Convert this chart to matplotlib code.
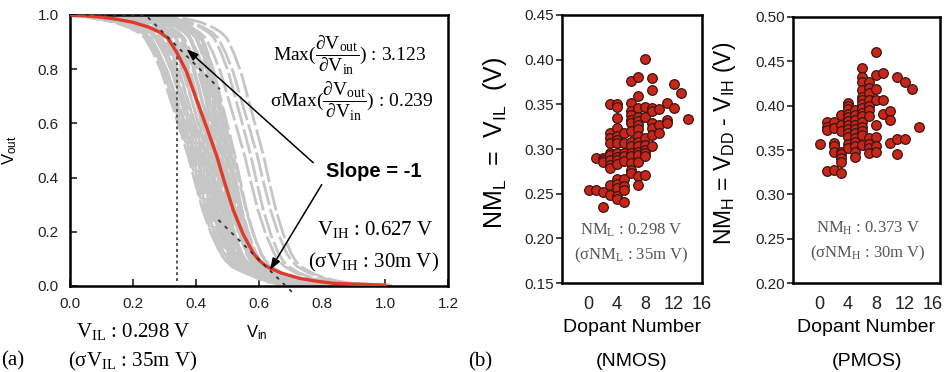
import numpy as np
import matplotlib.pyplot as plt

plt.rcParams['font.family'] = 'Liberation Sans'
plt.rcParams['mathtext.default'] = 'regular'

# (a) mean voltage transfer curve
vin = [0.0, 0.05, 0.1, 0.15, 0.2, 0.25, 0.286, 0.31, 0.339, 0.37, 0.413, 0.44,
       0.466, 0.49, 0.518, 0.55, 0.582, 0.6, 0.624, 0.67, 0.73, 0.78, 0.836, 0.9, 1.0]
vout = [1.0, 0.997, 0.992, 0.984, 0.973, 0.955, 0.936, 0.915, 0.862, 0.79, 0.652, 0.565,
        0.479, 0.385, 0.281, 0.19, 0.121, 0.095, 0.072, 0.048, 0.028, 0.018, 0.01, 0.007, 0.003]

# spread of the individual samples: shift along Vin and steepness vs. the mean curve
gray_shift = [-0.09, -0.085, -0.08, -0.075, -0.07, -0.065, -0.06, -0.055, -0.05, -0.045,
              -0.04, -0.035, -0.03, -0.025, -0.02, -0.015, -0.01, -0.005, 0.0, 0.005,
              0.01, 0.015, 0.02, 0.025, 0.03, 0.035, 0.04, 0.045, 0.05, 0.055,
              0.06, 0.0, 0.02, 0.04, 0.09, 0.11, 0.13, 0.15]
gray_scale = [0.88, 0.85, 0.9, 0.85, 0.9, 0.95, 0.85, 0.9, 0.85, 0.9,
              0.8, 0.9, 0.75, 0.85, 0.7, 0.8, 0.75, 0.65, 0.7, 0.8,
              0.6, 0.75, 0.65, 0.7, 0.6, 0.75, 0.65, 0.7, 0.6, 0.75,
              0.7, 0.5, 0.45, 0.55, 0.8, 0.75, 0.8, 0.75]

tan_top_x = [0.05, 0.24, 0.476]
tan_top_y = [1.0, 1.0, 0.726]
tan_bot_x = [0.471, 0.714]
tan_bot_y = [0.244, -0.033]

# (b) noise margins vs dopant number
nmos_n = [0, 1, 2, 2, 1, 2, 2, 2,
          3, 3, 3, 3, 3, 3, 3, 3, 3, 3, 3,
          4, 4, 4, 4, 4, 4, 4, 4, 4, 4, 4, 4, 4, 4, 4, 4,
          5, 5, 5, 5, 5, 5, 5, 5, 5,
          6, 6, 6, 6, 6, 6, 6, 6, 6, 6, 6, 6, 6, 6,
          7, 7, 7, 7, 7, 7, 7, 7, 7, 7, 7, 7, 7, 7, 7,
          8, 8, 8, 8, 8, 8, 8, 8, 8,
          9, 9, 9, 9, 9, 9, 9, 9,
          10, 10, 10, 11, 11, 11, 12, 12, 13, 14]
nmos_nm = [0.254, 0.254, 0.252, 0.235, 0.29, 0.29, 0.288, 0.286,
           0.35, 0.318, 0.312, 0.307, 0.296, 0.293, 0.288, 0.282, 0.279, 0.26, 0.249,
           0.35, 0.347, 0.335, 0.323, 0.315, 0.31, 0.307, 0.296, 0.291, 0.288, 0.283,
           0.266, 0.261, 0.256, 0.247, 0.244,
           0.318, 0.307, 0.296, 0.292, 0.287, 0.266, 0.259, 0.254, 0.241,
           0.376, 0.351, 0.342, 0.338, 0.333, 0.329, 0.32, 0.308, 0.303, 0.296,
           0.292, 0.284, 0.277, 0.273,
           0.381, 0.359, 0.346, 0.336, 0.331, 0.327, 0.322, 0.315, 0.308, 0.303,
           0.297, 0.293, 0.286, 0.27, 0.26,
           0.401, 0.347, 0.336, 0.312, 0.305, 0.299, 0.295, 0.292, 0.271,
           0.38, 0.366, 0.346, 0.342, 0.329, 0.323, 0.316, 0.303,
           0.345, 0.327, 0.318, 0.351, 0.333, 0.329, 0.373, 0.346, 0.363, 0.334]

pmos_n = [0, 1, 1, 1, 1, 2, 2, 2, 2, 2, 2,
          3, 3, 3, 3, 3, 3, 3, 3,
          4, 4, 4, 4, 4, 4, 4, 4, 4, 4, 4, 4,
          5, 5, 5, 5, 5, 5, 5, 5, 5, 5, 5,
          6, 6, 6, 6, 6, 6, 6, 6, 6, 6, 6, 6, 6, 6, 6,
          7, 7, 7, 7, 7, 7, 7, 7, 7, 7, 7,
          8, 8, 8, 8, 8, 8, 8, 8,
          9, 9, 9, 10, 10, 10, 11, 11, 11, 12, 12, 13, 14]
pmos_nm = [0.357, 0.381, 0.376, 0.372, 0.326, 0.381, 0.375, 0.358, 0.354, 0.348, 0.327,
           0.389, 0.378, 0.371, 0.348, 0.345, 0.341, 0.337, 0.324,
           0.403, 0.4, 0.396, 0.391, 0.387, 0.383, 0.378, 0.374, 0.369, 0.365, 0.357, 0.352,
           0.395, 0.389, 0.384, 0.378, 0.374, 0.369, 0.364, 0.359, 0.354, 0.348, 0.342,
           0.442, 0.432, 0.426, 0.417, 0.41, 0.406, 0.402, 0.397, 0.392, 0.388, 0.382,
           0.376, 0.371, 0.367, 0.356,
           0.427, 0.42, 0.414, 0.406, 0.4, 0.395, 0.388, 0.363, 0.357, 0.352, 0.347,
           0.46, 0.434, 0.419, 0.406, 0.378, 0.365, 0.354, 0.348,
           0.437, 0.406, 0.391, 0.394, 0.384, 0.358, 0.432, 0.362, 0.346, 0.426, 0.362,
           0.419, 0.376]

serif = 'Liberation Serif'
red = '#e03a2c'

fig = plt.figure(figsize=(9.47, 3.72), dpi=100)

# ---------- panel (a) ----------
ax = fig.add_axes([0.0739, 0.2312, 0.3992, 0.7285])
vin_a = np.array(vin)
for sh, sc in zip(gray_shift, gray_scale):
    ax.plot(0.46 + sh + (vin_a - 0.46) * sc, vout, color='#c6c6c6', lw=2.0,
            dashes=(9, 1.5))
ax.plot(vin, vout, color=red, lw=2.4, zorder=5)
ax.plot(tan_top_x, tan_top_y, color='#333333', lw=1.3, ls=(0, (2, 3)), zorder=6)
ax.plot(tan_bot_x, tan_bot_y, color='#333333', lw=1.3, ls=(0, (2, 3)), zorder=6,
        clip_on=False)
ax.plot([0.339, 0.339], [0.02, 0.86], color='#555555', lw=1.4, ls=(0, (1.5, 1.5)), zorder=4)

ax.set_xlim(0, 1.2)
ax.set_ylim(0, 1.0)
ax.set_xticks(np.arange(0, 1.21, 0.2))
ax.set_yticks(np.arange(0, 1.01, 0.2))
ax.xaxis.set_major_formatter(plt.FormatStrFormatter('%.1f'))
ax.yaxis.set_major_formatter(plt.FormatStrFormatter('%.1f'))
ax.tick_params(direction='in', length=5, width=1.2, labelsize=11, pad=8, colors='#222222')
for s in ax.spines.values():
    s.set_linewidth(1.8)

arw = dict(arrowstyle='-|>,head_length=0.7,head_width=0.25', color='k', lw=1.1,
           shrinkA=0, shrinkB=0)
ax.annotate('', xy=(0.37, 0.874), xytext=(0.772, 0.455), arrowprops=arw, zorder=7)
ax.annotate('', xy=(0.635, 0.059), xytext=(0.799, 0.374), arrowprops=arw, zorder=7)
ax.text(0.965, 0.424, 'Slope = -1', fontsize=14.5, fontweight='bold', ha='center',
        va='center')

ax.text(0.889, 0.85, r'Max($\dfrac{\partial V_{out}}{\partial V_{in}}$) : 3.123',
        family=serif, fontsize=14, ha='center', va='center')
ax.text(0.894, 0.683, r'σMax($\dfrac{\partial V_{out}}{\partial V_{in}}$) : 0.239',
        family=serif, fontsize=14, ha='center', va='center')
ax.text(0.968, 0.207, r'$V_{IH}$ : 0.627 V', family=serif, fontsize=15,
        ha='center', va='center')
ax.text(0.963, 0.085, r'$(σV_{IH}$ : 30m V)', family=serif, fontsize=15,
        ha='center', va='center')

fig.text(10 / 947, 1 - 150 / 372, r'$V_{out}$', fontsize=12, rotation=90,
         ha='center', va='center')
fig.text(257 / 947, 1 - 333 / 372, r'$V_{in}$', fontsize=12, ha='center', va='center')
fig.text(133 / 947, 1 - 332 / 372, r'$V_{IL}$ : 0.298 V', family=serif, fontsize=15,
         ha='center', va='center')
fig.text(133 / 947, 1 - 361 / 372, r'$(σV_{IL}$ : 35m V)', family=serif, fontsize=15,
         ha='center', va='center')
fig.text(13 / 947, 1 - 361 / 372, '(a)', family=serif, fontsize=15, ha='center', va='center')
fig.text(480 / 947, 1 - 362 / 372, '(b)', family=serif, fontsize=15, ha='center', va='center')

# ---------- panel (b) ----------
def scatter_panel(rect, n, nm, ylim, yticks, xlim, ylabel, lab_fs, lab_x, txt1, txt2,
                  tx, ty, xlabel):
    a = fig.add_axes(rect)
    a.scatter(n, nm, s=48, color='#c9261b', edgecolors='#3a1510', linewidths=0.9, zorder=3)
    a.set_xlim(*xlim)
    a.set_ylim(*ylim)
    a.set_yticks(yticks)
    a.yaxis.set_major_formatter(plt.FormatStrFormatter('%.2f'))
    a.set_xticks([0, 4, 8, 12, 16])
    a.tick_params(axis='y', direction='out', length=4, width=1.2, labelsize=11, pad=2,
                  colors='#222222')
    a.tick_params(axis='x', length=0, labelsize=13, pad=9, colors='#222222')
    for s in a.spines.values():
        s.set_linewidth(1.8)
    fig.text(lab_x / 947, 1 - 143 / 372, ylabel, fontsize=lab_fs, rotation=90,
             ha='center', va='center')
    fig.text(tx / 947, 1 - ty / 372, txt1, family=serif, fontsize=12, color='#555555',
             ha='center', va='center')
    fig.text(tx / 947, 1 - (ty + 25) / 372, txt2, family=serif, fontsize=12,
             color='#555555', ha='center', va='center')
    cx = (rect[0] + rect[2] / 2)
    fig.text(cx, 1 - 328 / 372, 'Dopant Number', fontsize=14, ha='center', va='center')
    fig.text(cx, 1 - 361 / 372, xlabel, fontsize=14, ha='center', va='center')
    return a

scatter_panel([0.5935, 0.2392, 0.1478, 0.7205], nmos_n, nmos_nm, (0.15, 0.45),
              np.arange(0.15, 0.451, 0.05), (-3.75, 15.7),
              r'$NM_L$  =  $V_{IL}$  (V)', 18, 495,
              r'$NM_L$ : 0.298 V', r'($σNM_L$ : 35m V)', 631.7, 230, '(NMOS)')
scatter_panel([0.8374, 0.2384, 0.1552, 0.7166], pmos_n, pmos_nm, (0.20, 0.50),
              np.arange(0.20, 0.501, 0.05), (-3.75, 17.0),
              r'$NM_H$ = $V_{DD}$ - $V_{IH}$ (V)', 16.5, 725,
              r'$NM_H$ : 0.373 V', r'($σNM_H$ : 30m V)', 868, 228, '(PMOS)')

fig.savefig('out.png', dpi=100)
